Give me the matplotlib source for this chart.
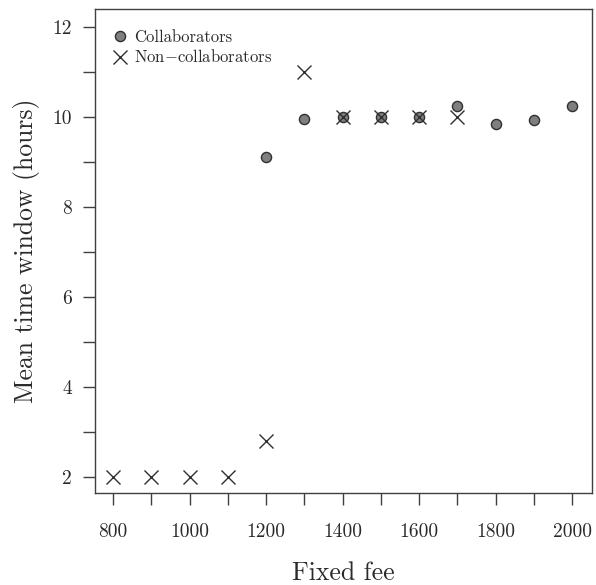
import matplotlib
matplotlib.use("Agg")
import matplotlib.pyplot as plt

plt.rcParams["font.family"] = "serif"
plt.rcParams["font.serif"] = ["cmr10"]
plt.rcParams["mathtext.fontset"] = "cm"
plt.rcParams["axes.formatter.use_mathtext"] = True

fee_collab = [1200, 1300, 1400, 1500, 1600, 1700, 1800, 1900, 2000]
window_collab = [9.1, 9.95, 10.0, 10.0, 10.0, 10.24, 9.84, 9.94, 10.25]

fee_non = [800, 900, 1000, 1100, 1200, 1300, 1400, 1500, 1600, 1700]
window_non = [2.0, 2.0, 2.0, 2.0, 2.8, 11.0, 10.0, 10.0, 10.0, 10.0]

x_ticks = list(range(800, 2001, 100))
y_ticks = list(range(2, 13))

ink = "#2a2a2a"

fig = plt.figure(figsize=(5.96, 5.85), dpi=100)
ax = fig.add_axes([0.1594, 0.1573, 0.8339, 0.8273])

ax.plot(fee_collab, window_collab, "o", ms=7.3, mfc="#7f7f7f", mec="#303030",
        mew=1.0, label="Collaborators", zorder=3)
ax.plot(fee_non, window_non, "x", ms=10, mec="#303030", mew=1.0,
        label="Non$-$collaborators", zorder=4)

ax.set_xlim(753, 2052)
ax.set_ylim(1.64, 12.4)

ax.set_xticks(x_ticks)
ax.set_xticklabels([str(v) if v % 200 == 0 else "" for v in x_ticks])
ax.set_yticks(y_ticks)
ax.set_yticklabels([str(v) if v % 2 == 0 else "" for v in y_ticks])

ax.tick_params(direction="out", length=8.6, width=1.0, color="#404040",
               labelsize=14, labelcolor=ink)
ax.tick_params(axis="x", pad=13)
ax.tick_params(axis="y", pad=8)

for sp in ax.spines.values():
    sp.set_color("#404040")
    sp.set_linewidth(1.0)

ax.set_xlabel("Fixed fee", fontsize=18.5, color=ink, labelpad=15)
ax.set_ylabel("Mean time window (hours)", fontsize=18.5, color=ink, labelpad=9)

ax.legend(loc="upper left", bbox_to_anchor=(0.02, 0.971), frameon=False,
          fontsize=12, handletextpad=0.33, borderaxespad=0.0, borderpad=0.4,
          labelspacing=0.2, handlelength=1.0, labelcolor=ink)

fig.savefig("out.png", dpi=100)
